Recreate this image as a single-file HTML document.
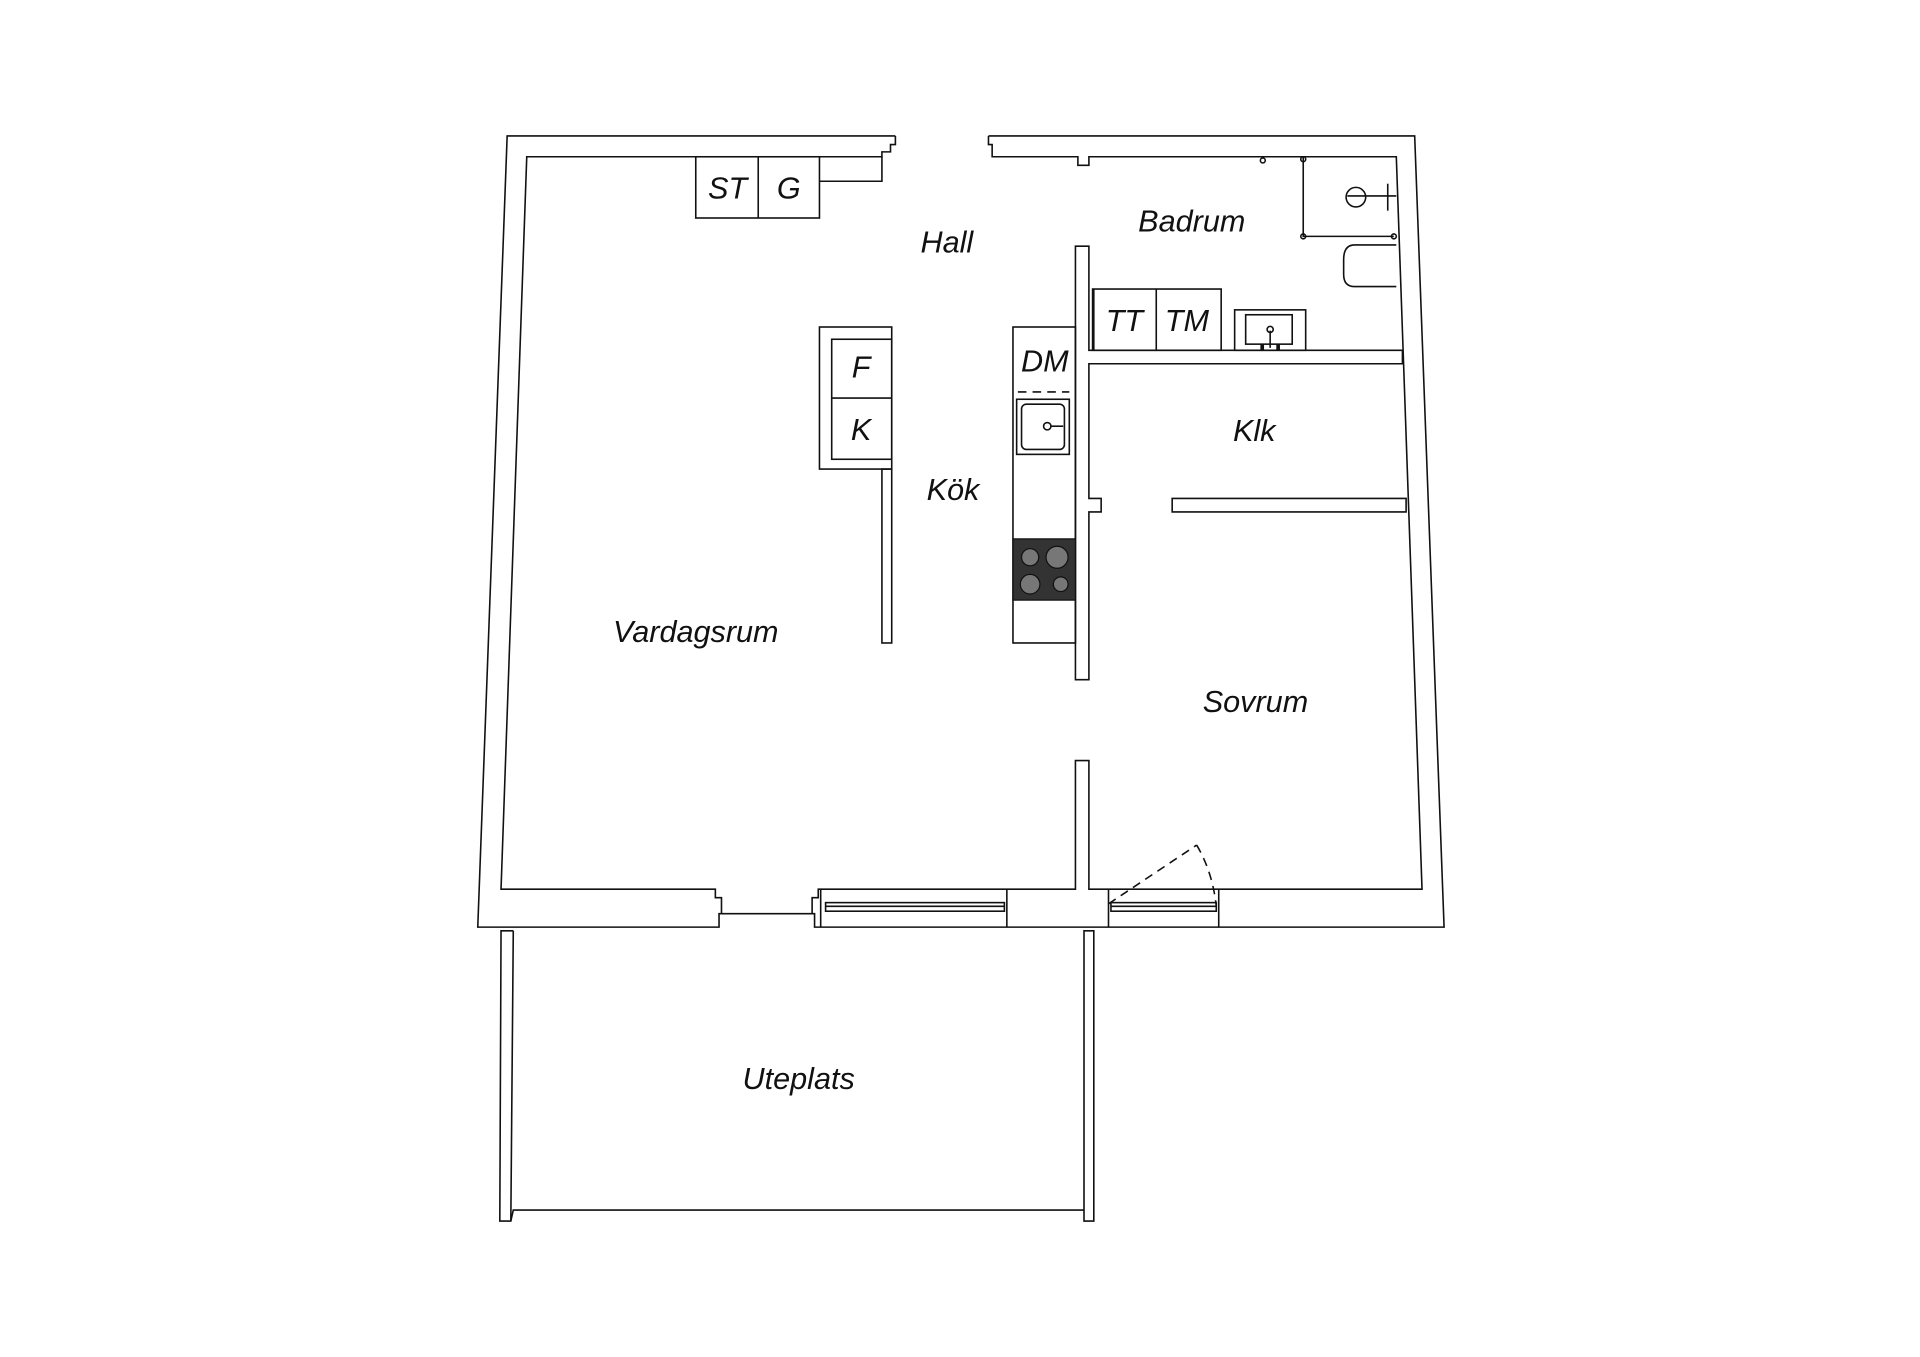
<!DOCTYPE html>
<html><head><meta charset="utf-8"><style>
html,body{margin:0;padding:0;background:#fff}
svg{display:block}
text{font-family:"Liberation Sans",sans-serif;font-style:italic;font-size:25px;fill:#111;text-anchor:middle;dominant-baseline:central}
</style></head><body>
<svg width="1920" height="1357" viewBox="0 0 1567.5 1108" xmlns="http://www.w3.org/2000/svg">
<g fill="none" stroke="#111" stroke-width="1.3">
<path d="M731,111 L414,111 L390,757 L587,757 L587,746 L665,746 L665,757 L1179,757 L1155,111 L807,111"/>
<path d="M731,111 L731,118 L727,118 L727,124 L720,124 L720,128 L430,128 L409,726 L584,726 L584,733 L589,733 L589,746"/>
<path d="M807,111 L807,118 L810,118 L810,128 L880,128 L880,135 L889,135 L889,128 L1140,128 L1161,726 L889,726 L889,621 L878,621 L878,726 L668,726 L668,733 L663,733 L663,746"/>
<line x1="670" y1="726" x2="670" y2="757"/><line x1="822" y1="726" x2="822" y2="757"/>
<line x1="905" y1="726" x2="905" y2="757"/><line x1="995" y1="726" x2="995" y2="757"/>
<rect x="674" y="737" width="146" height="7"/><line x1="674" y1="740" x2="820" y2="740"/>
<rect x="907" y="737" width="86" height="7"/><line x1="907" y1="740" x2="993" y2="740"/>
<path d="M878,555 L878,201 L889,201 L889,286 L1145,286 L1145,297 L889,297 L889,407 L899,407 L899,418 L889,418 L889,555 Z"/>
<path d="M957,407 L1148,407 L1148,418 L957,418 Z"/>
<path d="M905,738 L977,690" stroke-dasharray="7,5"/>
<path d="M977,690 Q990,712 993,740" stroke-dasharray="7,5"/>
<path d="M419,760 L409,760 L408,997 L417,997 L419,988 L885,988 L885,997 L893,997 L893,760 L885,760 L885,988"/>
<line x1="419" y1="760" x2="417" y2="997"/>
<rect x="568" y="128" width="101" height="50"/><line x1="619" y1="128" x2="619" y2="178"/>
<path d="M669,148 L720,148 L720,128"/>
<rect x="669" y="267" width="59" height="116"/>
<rect x="679" y="277" width="49" height="98"/><line x1="679" y1="325" x2="728" y2="325"/>
<rect x="720" y="383" width="8" height="142"/>
<rect x="827" y="267" width="51" height="258"/>
<line x1="831" y1="320" x2="873" y2="320" stroke-dasharray="7,5"/>
<rect x="830" y="326" width="43" height="45"/><rect x="834" y="330" width="35" height="37" rx="4"/>
<circle cx="855" cy="348" r="3"/><line x1="858" y1="348" x2="868" y2="348"/>
<rect x="892" y="236" width="105" height="50"/><line x1="944" y1="236" x2="944" y2="286"/><line x1="893" y1="236" x2="893" y2="286"/>
<rect x="1008" y="253" width="58" height="33"/><rect x="1017" y="257" width="38" height="24"/>
<line x1="1037" y1="270" x2="1037" y2="284"/><circle cx="1037" cy="269" r="2.5"/>
<path d="M1064,128 L1064,193 L1138,193"/>
<circle cx="1064" cy="130" r="2"/><circle cx="1064" cy="193" r="2"/><circle cx="1138" cy="193" r="2"/><circle cx="1031" cy="131" r="2"/>
<circle cx="1107" cy="161" r="8"/><line x1="1100" y1="160" x2="1140" y2="160"/><line x1="1133" y1="150" x2="1133" y2="172"/>
<path d="M1140,200 L1106,200 Q1097,200 1097,212 L1097,224 Q1097,234 1106,234 L1140,234"/>
</g>
<rect x="827" y="440" width="51" height="50" fill="#333" stroke="#111"/>
<g fill="#777" stroke="#111">
<circle cx="841" cy="455" r="7"/><circle cx="863" cy="455" r="9"/>
<circle cx="841" cy="477" r="8"/><circle cx="866" cy="477" r="6"/>
</g>
<rect x="1029" y="281" width="3" height="5" fill="#111"/><rect x="1042" y="281" width="3" height="5" fill="#111"/>
<text x="594" y="154">ST</text><text x="644" y="154">G</text>
<text x="773" y="198">Hall</text><text x="973" y="181">Badrum</text>
<text x="918" y="262">TT</text><text x="969" y="262">TM</text>
<text x="703" y="300">F</text><text x="703" y="351">K</text>
<text x="853" y="295">DM</text><text x="1024" y="352">Klk</text>
<text x="778" y="400">Kök</text><text x="568" y="516">Vardagsrum</text>
<text x="1025" y="573">Sovrum</text><text x="652" y="881">Uteplats</text>
</svg>
</body></html>
